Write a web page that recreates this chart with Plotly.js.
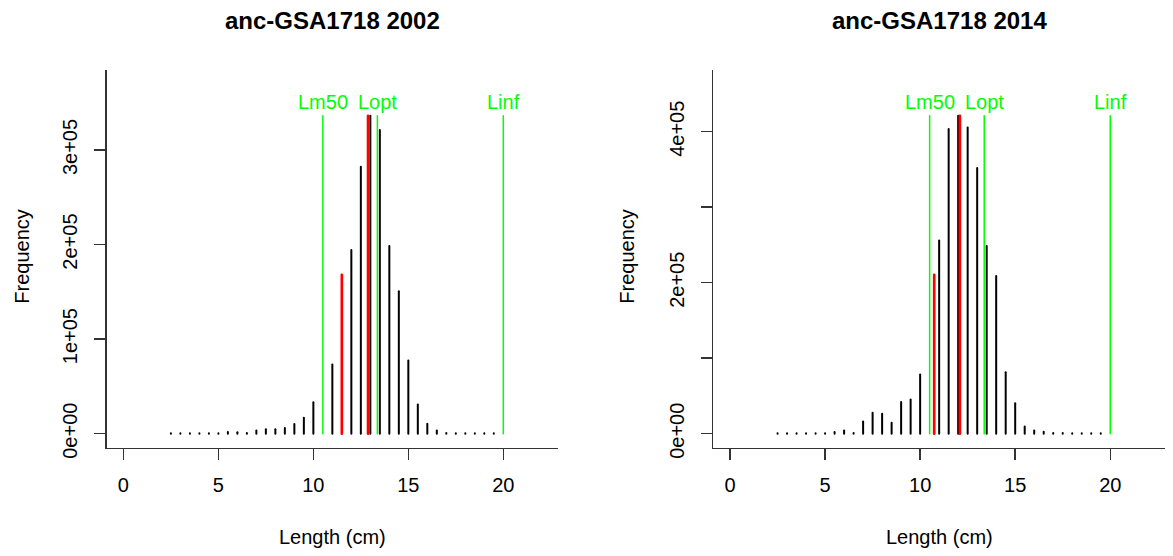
<!DOCTYPE html>
<html>
<head>
<meta charset="utf-8">
<script src="https://cdn.plot.ly/plotly-3.0.1.min.js"></script>
<style>html,body{margin:0;padding:0;background:#fff;}#chart{width:1173px;height:556px;}</style>
</head>
<body>
<div id="chart"></div>
<script>
// ---- data ----
const lengthBins = [2.5,3,3.5,4,4.5,5,5.5,6,6.5,7,7.5,8,8.5,9,9.5,10,10.5,11,11.5,12,12.5,13,13.5,14,14.5,15,15.5,16,16.5,17,17.5,18,18.5,19,19.5];
// null = bar hidden behind a reference line (not readable)
const freq2002 = [500,500,500,500,500,600,1800,1500,800,3500,4600,4600,6000,10200,16900,33400,null,73200,null,194400,282300,336200,321100,198600,150700,77400,30900,10500,3500,800,600,500,500,500,500];
const freq2014 = [500,500,500,500,500,600,2200,4400,1000,16300,27800,26500,14600,41900,45400,78500,null,255800,403500,421100,405700,351900,248700,209000,81500,40500,9700,4400,2600,1000,800,600,600,600,600];
const panelTitles = ["anc-GSA1718 2002", "anc-GSA1718 2014"];
const refNames = ["Lm50", "Lopt", "Linf"];
const refValues2002 = [10.5, 13.37, 20];
const refValues2014 = [10.5, 13.37, 20];
const lc2002 = 11.5, lmean2002 = 12.88;
const lc2014 = 10.74, lmean2014 = 12.09;
const xTickVals = [0, 5, 10, 15, 20];
const yTickVals2002 = [0, 1e5, 2e5, 3e5];
const yTickText2002 = ["0e+00", "1e+05", "2e+05", "3e+05"];
const yTickVals2014 = [0, 1e5, 2e5, 3e5, 4e5];
const yTickText2014 = ["0e+00", "", "2e+05", "", "4e+05"];
const xLabel = "Length (cm)", yLabel = "Frequency";

// ---- build ----
const W = 1173, H = 556;
const FONT = "Liberation Sans, Arial, sans-serif";
const GREEN = "#00FF00", RED = "#FF0000";

function stems(xs, ys) {
  const x = [], y = [];
  xs.forEach((v, i) => { if (ys[i] == null) return; x.push(v, v, null); y.push(0, ys[i], null); });
  return {x, y};
}
function segs(xs, hs) {
  const x = [], y = [];
  xs.forEach((v, i) => { x.push(v, v, null); y.push(0, hs[i], null); });
  return {x, y};
}

const panels = [
  {freq: freq2002, refs: refValues2002, lc: lc2002, lmean: lmean2002, xa: "x", ya: "y", yt: yTickVals2002, ytt: yTickText2002, dom: [106.7, 558]},
  {freq: freq2014, refs: refValues2014, lc: lc2014, lmean: lmean2014, xa: "x2", ya: "y2", yt: yTickVals2014, ytt: yTickText2014, dom: [713.3, 1165]}
];

const traces = [], annotations = [];
const layout = {
  width: W, height: H, margin: {l: 0, r: 0, t: 0, b: 0},
  paper_bgcolor: "#fff", plot_bgcolor: "#fff", showlegend: false,
  font: {family: FONT, size: 20, color: "#000"}
};
const yDom = [1 - 447.7 / H, 1 - 70 / H];

panels.forEach((p, k) => {
  const maxF = Math.max(...p.freq.filter(v => v != null));
  const s = stems(lengthBins, p.freq);
  traces.push({type: "scatter", mode: "lines", x: s.x, y: s.y, xaxis: p.xa, yaxis: p.ya,
    line: {color: "#000", width: 2}, hoverinfo: "skip"});
  const r = segs([p.lc, p.lmean], [maxF / 2, maxF]);
  traces.push({type: "scatter", mode: "lines", x: r.x, y: r.y, xaxis: p.xa, yaxis: p.ya,
    line: {color: RED, width: 2.7}, hoverinfo: "skip"});
  const g = segs(p.refs, p.refs.map(() => maxF));
  traces.push({type: "scatter", mode: "lines", x: g.x, y: g.y, xaxis: p.xa, yaxis: p.ya,
    line: {color: GREEN, width: 1.5}, hoverinfo: "skip"});
  p.refs.forEach((v, i) => annotations.push({xref: p.xa, yref: p.ya, x: v, y: maxF, text: refNames[i],
    showarrow: false, xanchor: "center", yanchor: "middle", yshift: 14, font: {family: FONT, size: 20, color: GREEN}}));

  const ylim = 1.1 * maxF;
  const xKey = k === 0 ? "xaxis" : "xaxis2", yKey = k === 0 ? "yaxis" : "yaxis2";
  const common = {showline: true, linecolor: "#333", linewidth: 1.5, ticks: "outside", ticklen: 11, tickwidth: 1.5,
    tickcolor: "#333", showgrid: false, zeroline: false, tickfont: {family: FONT, size: 20, color: "#000"}, fixedrange: true};
  layout[xKey] = Object.assign({}, common, {domain: [p.dom[0] / W, p.dom[1] / W], range: [-0.88, 22.88],
    tickmode: "array", tickvals: xTickVals, ticktext: xTickVals.map(String), anchor: p.ya, ticklabelstandoff: 8});
  layout[yKey] = Object.assign({}, common, {domain: yDom, range: [-0.04 * ylim, 1.04 * ylim],
    tickmode: "array", tickvals: p.yt, ticktext: p.ytt, tickangle: -90, anchor: p.xa, ticklabelstandoff: 9});

  const cx = (p.dom[0] + p.dom[1]) / 2 / W;
  annotations.push({xref: "paper", yref: "paper", x: cx, y: 1 - 21 / H, text: "<b>" + panelTitles[k] + "</b>",
    showarrow: false, xanchor: "center", yanchor: "middle", font: {family: FONT, size: 24, color: "#000"}});
  annotations.push({xref: "paper", yref: "paper", x: cx, y: 1 - 536.7 / H, text: xLabel,
    showarrow: false, xanchor: "center", yanchor: "middle", font: {family: FONT, size: 20, color: "#000"}});
  annotations.push({xref: "paper", yref: "paper", x: (k === 0 ? 21.7 : 626.7) / W, y: 1 - 256 / H, text: yLabel,
    textangle: -90, showarrow: false, xanchor: "center", yanchor: "middle", font: {family: FONT, size: 20, color: "#000"}});
});
layout.annotations = annotations;

Plotly.newPlot("chart", traces, layout, {staticPlot: true}).then(() => {
  document.querySelectorAll(".scatterlayer .js-line").forEach(el => el.style.strokeLinecap = "round");
});
</script>
</body>
</html>
